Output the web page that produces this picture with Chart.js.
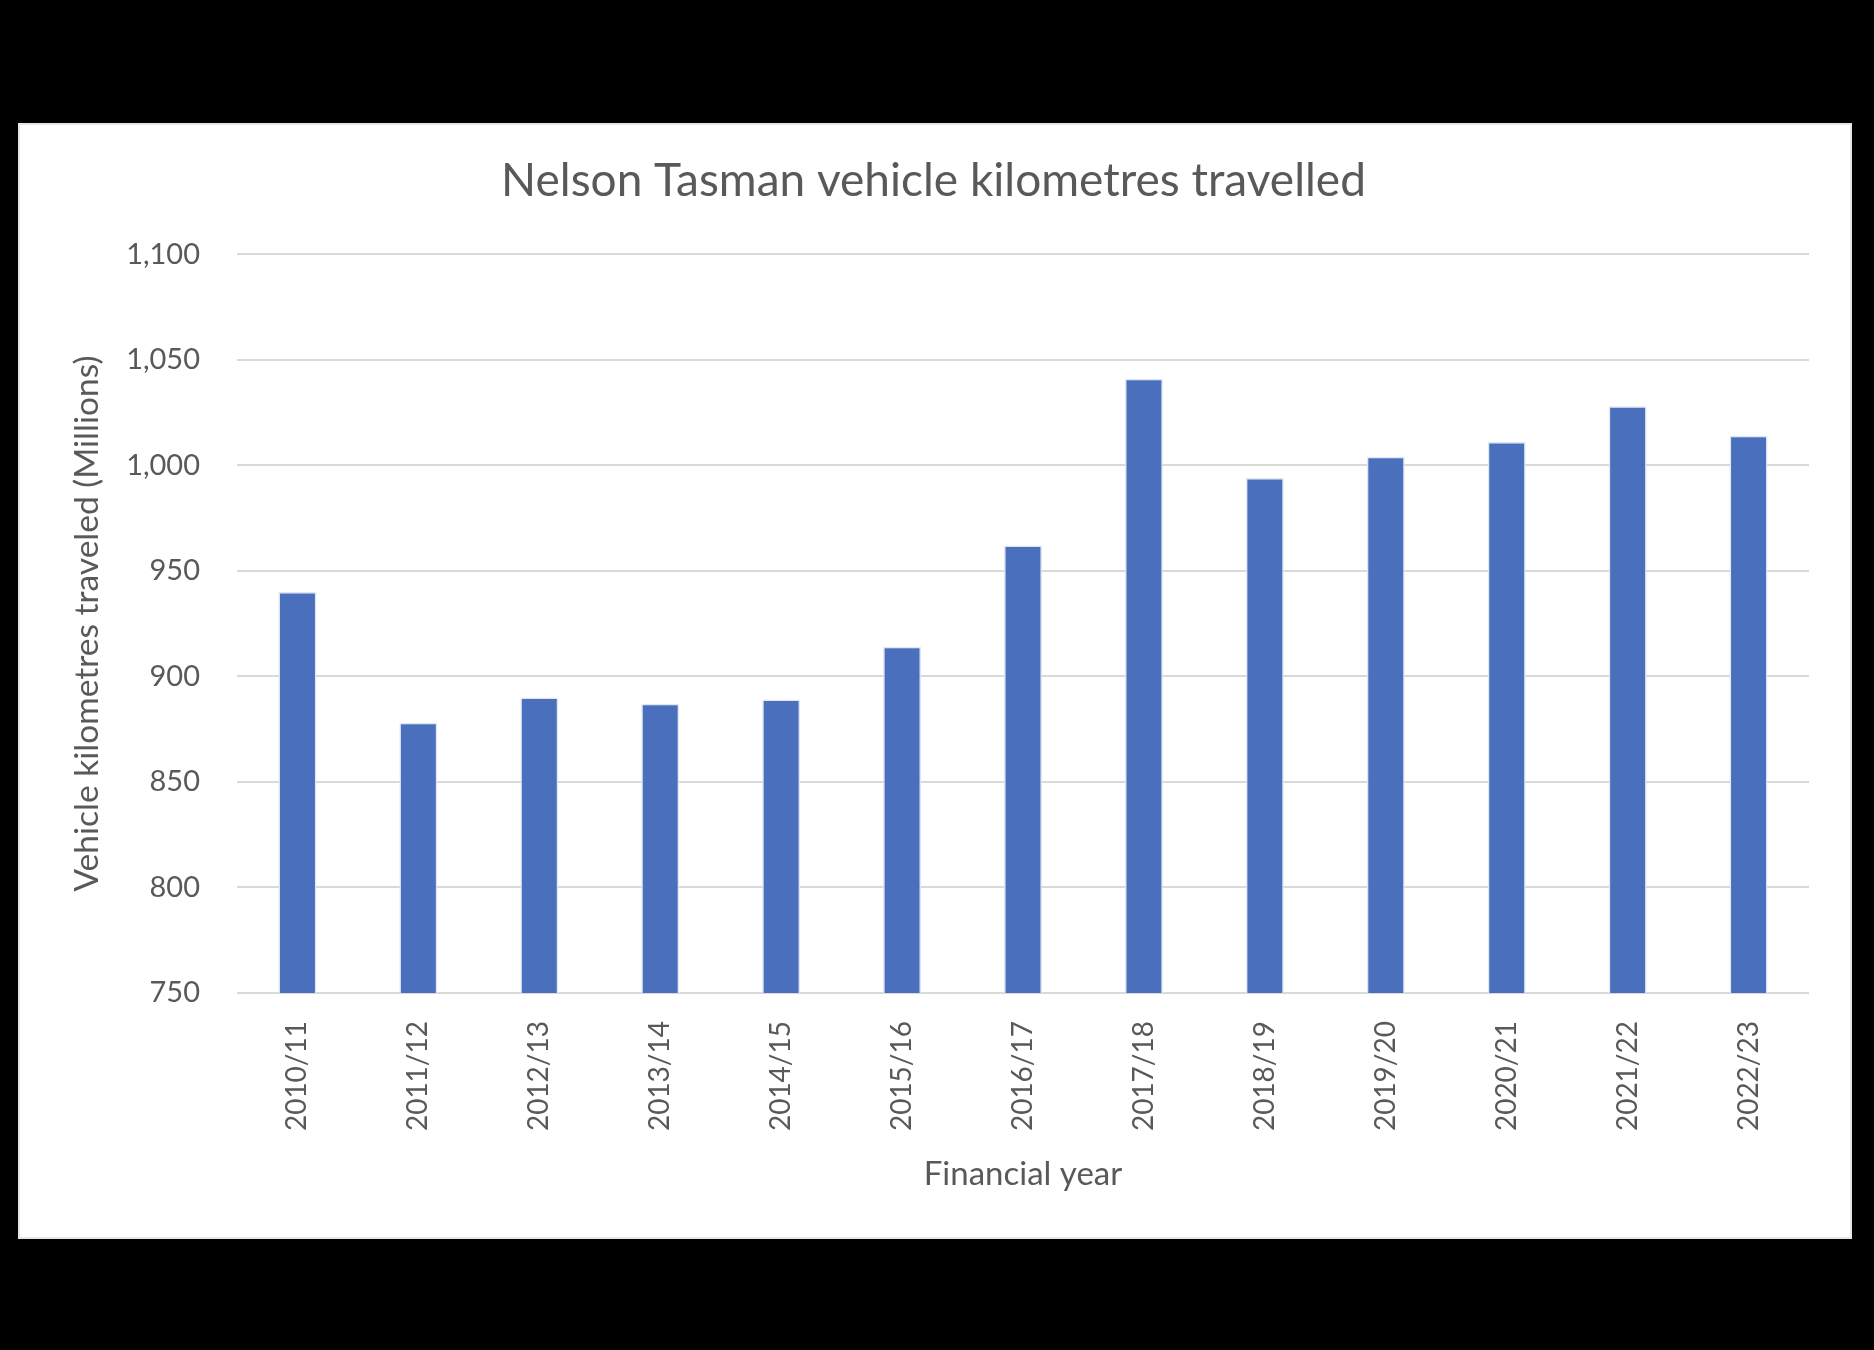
<!DOCTYPE html>
<html>
<head>
<meta charset="utf-8">
<title>Nelson Tasman vehicle kilometres travelled</title>
<script src="https://cdn.jsdelivr.net/npm/chart.js@4.4.1/dist/chart.umd.min.js"></script>
<style>
  html, body { margin: 0; padding: 0; background: #000; }
  canvas { display: block; }
</style>
</head>
<body>
<canvas id="vkt" width="1874" height="1350"></canvas>
<script>
const years = ['2010/11', '2011/12', '2012/13', '2013/14', '2014/15', '2015/16', '2016/17',
  '2017/18', '2018/19', '2019/20', '2020/21', '2021/22', '2022/23'];
const vktMillions = [940, 878, 890, 887, 889, 914, 962, 1041, 994, 1004, 1011, 1028, 1014];
const yMin = 750;
const yMax = 1100;
const yStep = 50;

const textGrey = '#595959';
const fontFamily = 'Lato, "Open Sans", sans-serif';

// black backdrop with the white chart panel on top
const panel = {
  id: 'panel',
  beforeDraw(chart) {
    const { ctx } = chart;
    ctx.save();
    ctx.fillStyle = '#000';
    ctx.fillRect(0, 0, chart.width, chart.height);
    ctx.fillStyle = '#fff';
    ctx.fillRect(18, 123, 1834, 1116);
    ctx.strokeStyle = '#e6e6e6';
    ctx.lineWidth = 2;
    ctx.strokeRect(19, 124, 1832, 1114);
    ctx.restore();
  },
};

new Chart(document.getElementById('vkt'), {
  type: 'bar',
  data: {
    labels: years,
    datasets: [{
      data: vktMillions,
      backgroundColor: '#4a70bd',
      borderColor: '#dfe6f4',
      borderWidth: 1.5,
      categoryPercentage: 1,
      barPercentage: 0.314,
    }],
  },
  options: {
    responsive: false,
    animation: false,
    events: [],
    layout: {
      padding: { top: 0, left: 58, right: 65, bottom: 111 },
    },
    scales: {
      x: {
        grid: { display: false },
        border: { display: false },
        ticks: {
          color: textGrey,
          font: { family: fontFamily, size: 28 },
          minRotation: 90,
          maxRotation: 90,
          padding: 20,
          autoSkip: false,
        },
        title: {
          display: true,
          text: 'Financial year',
          color: textGrey,
          font: { family: fontFamily, size: 33 },
          padding: { top: 0, bottom: 45 },
        },
        afterFit(scale) {
          scale.height = 246;
        },
      },
      y: {
        min: yMin,
        max: yMax,
        grid: {
          color: '#d9d9d9',
          lineWidth: 2,
          drawTicks: false,
        },
        border: { display: false },
        ticks: {
          stepSize: yStep,
          color: textGrey,
          font: { family: fontFamily, size: 29 },
          padding: 37,
          callback: (v) => v.toLocaleString('en-US'),
        },
        title: {
          display: true,
          text: 'Vehicle kilometres traveled (Millions)',
          color: textGrey,
          font: { family: fontFamily, size: 33.5 },
          padding: { top: 9, bottom: 0 },
        },
        afterFit(scale) {
          scale.width = 179;
        },
      },
    },
    plugins: {
      legend: { display: false },
      tooltip: { enabled: false },
      title: {
        display: true,
        text: 'Nelson Tasman vehicle kilometres travelled',
        color: textGrey,
        font: { family: fontFamily, size: 46, weight: 'normal' },
        padding: { top: 154, bottom: 45 },
      },
    },
  },
  plugins: [panel],
});
</script>
</body>
</html>
